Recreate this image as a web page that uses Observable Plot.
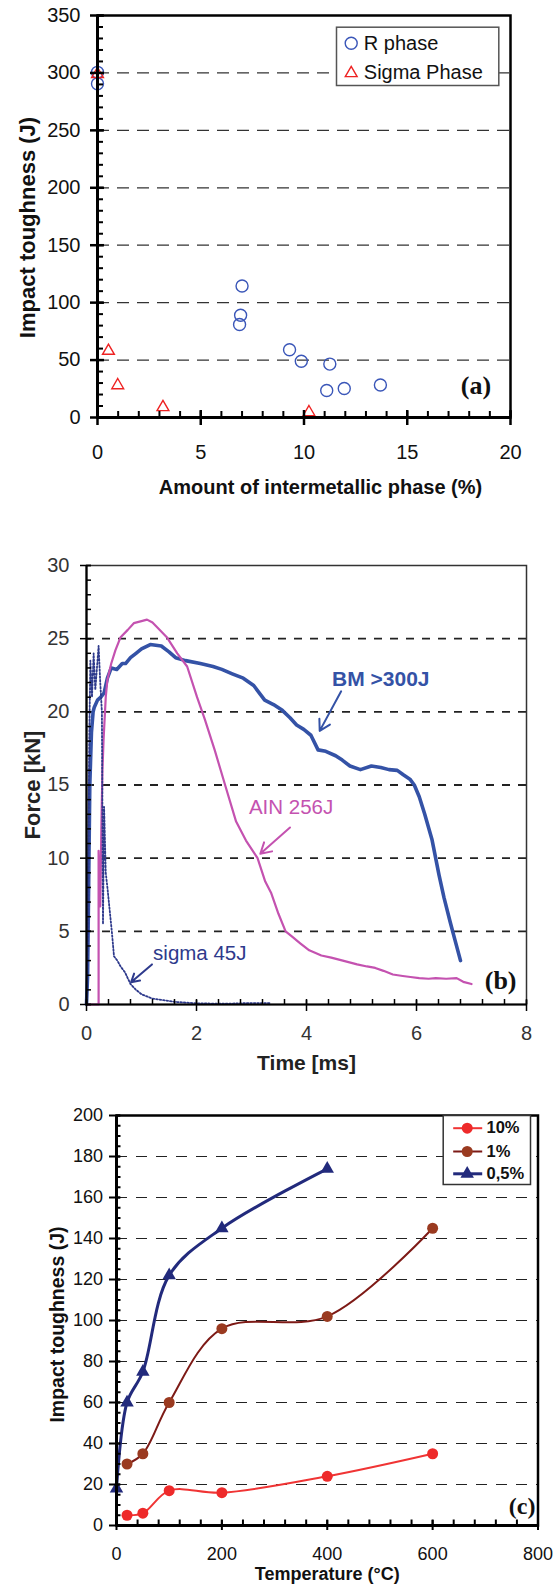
<!DOCTYPE html>
<html>
<head>
<meta charset="utf-8">
<script src="https://cdn.jsdelivr.net/npm/d3@7"></script>
<script src="https://cdn.jsdelivr.net/npm/@observablehq/plot@0.6"></script>
<style>
  html, body { margin: 0; padding: 0; background: #fff; }
  svg { display: block; }
</style>
</head>
<body>
<div id="chart"></div>
<script>
// ---------------- DATA ----------------
// Panel (a): impact toughness vs amount of intermetallic phase
const rPhaseX = [0, 0, 7.0, 6.93, 6.88, 9.3, 9.87, 11.25, 11.1, 11.95, 13.7];
const rPhaseY = [300.5, 290.5, 114.5, 89, 81, 59, 49, 46.5, 23.5, 25.2, 28.3];
const sigmaX = [0, 0.53, 0.98, 3.17, 10.24];
const sigmaY = [299, 58, 28, 9, 4.5];
const aLegend = ["R phase", "Sigma Phase"];
const aXTicks = [0, 5, 10, 15, 20];
const aYTicks = [0, 50, 100, 150, 200, 250, 300, 350];
const aGrid = [50, 100, 150, 200, 250, 300];

// Panel (b): force-time curves
const bmT = [0, 0.02, 0.03, 0.06, 0.09, 0.12, 0.14, 0.2, 0.26, 0.32,
  0.38, 0.45, 0.55, 0.65, 0.71, 0.8, 0.9, 1.0, 1.16, 1.36,
  1.5, 1.62, 1.8, 2.07, 2.3, 2.46, 2.65, 2.85, 3.04, 3.24,
  3.4, 3.56, 3.7, 3.82, 3.95, 4.08, 4.21, 4.35, 4.53, 4.65,
  4.79, 4.98, 5.18, 5.35, 5.5, 5.65, 5.76, 5.88, 5.96, 6.05,
  6.15, 6.28, 6.41, 6.5, 6.61, 6.7, 6.8];
const bmF = [0, 2, 5.2, 15, 18.6, 20, 20.3, 20.8, 21.0, 21.3,
  22.3, 23.0, 22.9, 23.3, 23.3, 23.7, 24.0, 24.3, 24.6, 24.5,
  24.1, 23.7, 23.5, 23.3, 23.1, 22.9, 22.6, 22.3, 21.8, 20.8,
  20.5, 20.1, 19.6, 19.1, 18.8, 18.4, 17.4, 17.3, 17.0, 16.7,
  16.3, 16.05, 16.3, 16.2, 16.05, 16.0, 15.7, 15.4, 15.0, 14.2,
  13.0, 11.3, 8.84, 7.3, 5.67, 4.4, 3.0];
const ainT = [0, 0.22, 0.22, 0.25, 0.27, 0.29, 0.31, 0.35, 0.38, 0.45,
  0.525, 0.62, 0.75, 0.86, 1.0, 1.1, 1.2, 1.28, 1.46, 1.65,
  1.83, 2.01, 2.15, 2.33, 2.52, 2.72, 2.9, 3.11, 3.25, 3.36,
  3.49, 3.62, 3.75, 3.88, 4.05, 4.27, 4.45, 4.66, 4.92, 5.1,
  5.25, 5.4, 5.57, 5.75, 5.89, 6.05, 6.22, 6.35, 6.54, 6.73,
  6.85, 7.0];
const ainF = [0, 0, 10.5, 6.7, 12, 16, 18.1, 21, 22.2, 23.3,
  24.2, 25.1, 25.6, 26.06, 26.2, 26.3, 26.1, 25.8, 25.1, 24.0,
  23.1, 21.0, 19.5, 17.4, 15, 12.5, 11.2, 10, 8.4, 7.6,
  6.2, 5, 4.6, 4.2, 3.7, 3.35, 3.2, 3.0, 2.74, 2.6,
  2.5, 2.3, 2.05, 1.95, 1.88, 1.8, 1.76, 1.8, 1.76, 1.8,
  1.55, 1.4];
const sigT = [0, 0.03, 0.05, 0.07, 0.1, 0.13, 0.16, 0.19, 0.22, 0.25,
  0.28, 0.3, 0.32, 0.35, 0.38, 0.42, 0.46, 0.5, 0.56, 0.62,
  0.7, 0.8, 0.9, 1.0, 1.2, 1.4, 1.6, 2.0, 2.5, 3.0,
  3.35];
const sigF = [0, 5, 18, 23.5, 21, 24, 21.5, 23, 24.5, 22,
  20, 5.5, 13.5, 9, 8, 6.5, 5, 3.3, 3, 2.6,
  2.2, 1.4, 1.0, 0.7, 0.4, 0.3, 0.18, 0.08, 0.05, 0.1,
  0.1];
const bNotes = ["BM >300J", "AIN 256J", "sigma 45J"];
const bNoteT = [5.35, 3.72, 2.06];
const bNoteF = [22.2, 13.5, 3.47];
const bArrowT1 = [4.63, 3.70, 1.19];
const bArrowF1 = [21.4, 12.1, 2.74];
const bArrowT2 = [4.24, 3.16, 0.81];
const bArrowF2 = [18.7, 10.3, 1.52];
const bXTicks = [0, 2, 4, 6, 8];
const bYTicks = [0, 5, 10, 15, 20, 25, 30];
const bGrid = [5, 10, 15, 20, 25];

// Panel (c): impact toughness vs temperature
const seriesNames = ["10%", "1%", "0,5%"];
const temp10 = [20, 50, 100, 200, 400, 600];
const tough10 = [5, 6, 17, 16, 24, 35];
const temp1 = [20, 50, 100, 200, 400, 600];
const tough1 = [30, 35, 60, 96, 102, 145];
const temp05 = [0, 20, 50, 100, 200, 400];
const tough05 = [18, 60, 75, 122, 145, 174];
const cXTicks = [0, 200, 400, 600, 800];
const cYTicks = [0, 20, 40, 60, 80, 100, 120, 140, 160, 180, 200];
const cGrid = [20, 40, 60, 80, 100, 120, 140, 160, 180];

// ---------------- HELPERS ----------------
const SANS = "'Liberation Sans', Arial, Helvetica, sans-serif";
const SERIF = "'Liberation Serif', 'Times New Roman', serif";
const W = 559;
const zip = (xs, ys, kx, ky) => xs.map((v, i) => ({[kx]: v, [ky]: ys[i]}));
function steps(a, b, s) { const r = []; for (let k = 0; a + k * s <= b + 1e-9; k++) r.push(+(a + k * s).toFixed(6)); return r; }
function ticksY(values, plotW, out, inn, sw) {
  return Plot.ruleY(values, {insetLeft: -out, insetRight: plotW - inn, stroke: "#000", strokeWidth: sw});
}
function ticksX(values, plotH, out, inn, sw) {
  return Plot.ruleX(values, {insetBottom: -out, insetTop: plotH - inn, stroke: "#000", strokeWidth: sw});
}
const style = {fontFamily: SANS, background: "white", overflow: "visible", color: "#000"};
const chart = document.getElementById("chart");

// ---------------- PANEL (a) ----------------
{
  const mL = 97, mR = 49, mT = 15, mB = 83, H = 500;
  const pW = W - mL - mR, pH = H - mT - mB;
  const rPhase = zip(rPhaseX, rPhaseY, "x", "y");
  const sigma = zip(sigmaX, sigmaY, "x", "y");
  const legX = 253.7, legRows = [27.7, 56.7];
  const blue = "#3a56b8", red = "#ee2222";
  const legendMarks = [
    Plot.dot([aLegend[0]], {frameAnchor: "top-left", dx: legX, dy: legRows[0], r: 6, stroke: blue, strokeWidth: 1.4, fill: "none"}),
    Plot.dot([aLegend[1]], {frameAnchor: "top-left", dx: legX, dy: legRows[1] + 1, symbol: "triangle", r: 4.4, stroke: red, strokeWidth: 1.4, fill: "none"})
  ];
  aLegend.forEach((name, i) => legendMarks.push(
    Plot.text([name], {text: d => d, frameAnchor: "top-left", dx: legX + 12.6, dy: legRows[i], textAnchor: "start", lineAnchor: "middle", fontSize: 20, fill: "#111"})
  ));
  const plot = Plot.plot({
    width: W, height: H, marginLeft: mL, marginRight: mR, marginTop: mT, marginBottom: mB,
    style,
    x: {domain: [0, 20]},
    y: {domain: [0, 350]},
    marks: [
      Plot.ruleY(aGrid, {stroke: "#333", strokeWidth: 1.3, strokeDasharray: "12,8"}),
      Plot.frame({stroke: "#000", strokeWidth: 2.5}),
      Plot.frame({fill: "white", stroke: "#555", strokeWidth: 1.5, insetLeft: 239, insetRight: 11.7, insetTop: 11.7, insetBottom: pH - 70}),
      Plot.dot(rPhase, {x: "x", y: "y", r: 6, stroke: blue, strokeWidth: 1.4, fill: "none"}),
      Plot.dot(sigma, {x: "x", y: "y", symbol: "triangle", r: 4.4, stroke: red, strokeWidth: 1.4, fill: "none"}),
      ...legendMarks,
      ticksY(steps(0, 350, 10), pW, 0, 6, 2),
      ticksY(aYTicks, pW, 7, 7, 2.5),
      ticksX(steps(0, 20, 1), pH, 0, 6, 2),
      ticksX(aXTicks, pH, 8, 7, 2.5),
      Plot.ruleX([0], {strokeWidth: 3, stroke: "#000"}),
      Plot.ruleY([0], {strokeWidth: 3, stroke: "#000"}),
      Plot.axisY({ticks: aYTicks, tickSize: 0, tickPadding: 17, fontSize: 20, label: null, color: "#111"}),
      Plot.axisX({ticks: aXTicks, tickSize: 0, tickPadding: 27.5, fontSize: 20, label: null, color: "#111"}),
      Plot.text(["Amount of intermetallic phase (%)"], {text: d => d, frameAnchor: "bottom-right", dx: -28.3, dy: 70, textAnchor: "end", lineAnchor: "middle", fontSize: 20, fontWeight: "bold", fill: "#111"}),
      Plot.text(["Impact toughness (J)"], {text: d => d, frameAnchor: "left", dx: 27 - mL, dy: 11, rotate: -90, textAnchor: "middle", lineAnchor: "middle", fontSize: 22, fontWeight: "bold", fill: "#111"}),
      Plot.text(["(a)"], {text: d => d, frameAnchor: "bottom-right", dx: -19.3, dy: -32.3, textAnchor: "end", lineAnchor: "middle", fontSize: 26, fontWeight: "bold", fontFamily: SERIF, fill: "#111"})
    ]
  });
  chart.appendChild(plot);
}

// ---------------- PANEL (b) ----------------
{
  const mL = 86, mR = 33, mT = 65, mB = 76, H = 580;
  const pW = W - mL - mR, pH = H - mT - mB;
  const bm = zip(bmT, bmF, "t", "f");
  const ain = zip(ainT, ainF, "t", "f");
  const sig = zip(sigT, sigF, "t", "f");
  const cols = ["#3452a6", "#c452b0", "#2e3a8c"];
  const weights = ["bold", "normal", "normal"];
  const noteMarks = [];
  bNotes.forEach((s, i) => {
    noteMarks.push(Plot.arrow([s], {x1: () => bArrowT1[i], y1: () => bArrowF1[i], x2: () => bArrowT2[i], y2: () => bArrowF2[i], stroke: cols[i], strokeWidth: 2, headLength: 9}));
    noteMarks.push(Plot.text([s], {x: () => bNoteT[i], y: () => bNoteF[i], text: d => d, fill: cols[i], fontWeight: weights[i], fontSize: i === 0 ? 21 : 20.5, textAnchor: "middle", lineAnchor: "middle"}));
  });
  const plot = Plot.plot({
    width: W, height: H, marginLeft: mL, marginRight: mR, marginTop: mT, marginBottom: mB,
    style,
    x: {domain: [0, 8]},
    y: {domain: [0, 30]},
    marks: [
      Plot.ruleY(bGrid, {stroke: "#222", strokeWidth: 1.8, strokeDasharray: "8,8"}),
      Plot.frame({stroke: "#333", strokeWidth: 1.5}),
      Plot.line(bm, {x: "t", y: "f", stroke: cols[0], strokeWidth: 3.6, strokeLinejoin: "round"}),
      Plot.line(ain, {x: "t", y: "f", stroke: cols[1], strokeWidth: 2.2, strokeLinejoin: "round"}),
      Plot.line(sig, {x: "t", y: "f", stroke: cols[2], strokeWidth: 1.8, strokeDasharray: "1.6,1.9"}),
      ...noteMarks,
      ticksY(steps(0, 30, 1), pW, 0, 5, 1.5),
      ticksY(bYTicks, pW, 6, 5, 1.5),
      ticksX(steps(0, 8, 0.4), pH, 0, 5, 1.5),
      ticksX(bXTicks, pH, 7, 4, 1.5),
      Plot.ruleX([0], {strokeWidth: 2.2, stroke: "#000"}),
      Plot.ruleY([0], {strokeWidth: 2.2, stroke: "#000"}),
      Plot.axisY({ticks: bYTicks, tickSize: 0, tickPadding: 17, fontSize: 20, label: null, color: "#333"}),
      Plot.axisX({ticks: bXTicks, tickSize: 0, tickPadding: 21, fontSize: 20, label: null, color: "#333"}),
      Plot.text(["Time [ms]"], {text: d => d, frameAnchor: "bottom", dy: 59, textAnchor: "middle", lineAnchor: "middle", fontSize: 21, fontWeight: "bold", fill: "#222"}),
      Plot.text(["Force [kN]"], {text: d => d, frameAnchor: "left", dx: 32 - mL, dy: 0, rotate: -90, textAnchor: "middle", lineAnchor: "middle", fontSize: 22, fontWeight: "bold", fill: "#222"}),
      Plot.text(["(b)"], {text: d => d, frameAnchor: "bottom-right", dx: -10, dy: -24, textAnchor: "end", lineAnchor: "middle", fontSize: 26, fontWeight: "bold", fontFamily: SERIF, fill: "#111"})
    ]
  });
  chart.appendChild(plot);
}

// ---------------- PANEL (c) ----------------
{
  const mL = 116, mR = 21.5, mT = 35, mB = 62, H = 507;
  const pW = W - mL - mR, pH = H - mT - mB;
  const s10 = zip(temp10, tough10, "x", "y");
  const s1 = zip(temp1, tough1, "x", "y");
  const s05 = zip(temp05, tough05, "x", "y");
  const lineCols = ["#f03434", "#7d1a16", "#222a7c"];
  const dotCols = ["#ee2a2a", "#9a3a20", "#222a7c"];
  const lineW = [2, 2, 3];
  const legRowY = [12.7, 36, 58.3];
  const legL = 336.7, legR = 55.8, legMark = 350.7, legText = 370;
  const legendMarks = [];
  seriesNames.forEach((name, i) => {
    const th = lineW[i];
    legendMarks.push(Plot.frame({fill: lineCols[i], stroke: "none", insetLeft: legL, insetRight: legR, insetTop: legRowY[i] - th / 2, insetBottom: pH - legRowY[i] - th / 2}));
    legendMarks.push(Plot.dot([name], {frameAnchor: "top-left", dx: legMark, dy: legRowY[i], r: i === 2 ? 5 : 5.5, symbol: i === 2 ? "triangle" : "circle", fill: dotCols[i]}));
    legendMarks.push(Plot.text([name], {text: d => d, frameAnchor: "top-left", dx: legText, dy: legRowY[i], textAnchor: "start", lineAnchor: "middle", fontSize: 16.5, fontWeight: "bold", fill: "#111"}));
  });
  const plot = Plot.plot({
    width: W, height: H, marginLeft: mL, marginRight: mR, marginTop: mT, marginBottom: mB,
    style,
    x: {domain: [0, 800]},
    y: {domain: [0, 200]},
    marks: [
      Plot.ruleY(cGrid, {stroke: "#222", strokeWidth: 1.2, strokeDasharray: "11,9"}),
      Plot.frame({stroke: "#000", strokeWidth: 2.5}),
      Plot.frame({fill: "white", stroke: "#333", strokeWidth: 1.5, insetLeft: 326.7, insetRight: 7.5, insetTop: 0, insetBottom: pH - 69}),
      ...legendMarks,
      Plot.line(s10, {x: "x", y: "y", stroke: lineCols[0], strokeWidth: lineW[0], curve: "catmull-rom"}),
      Plot.line(s1, {x: "x", y: "y", stroke: lineCols[1], strokeWidth: lineW[1], curve: "catmull-rom"}),
      Plot.line(s05, {x: "x", y: "y", stroke: lineCols[2], strokeWidth: lineW[2], curve: "catmull-rom"}),
      Plot.dot(s10, {x: "x", y: "y", r: 5.5, fill: dotCols[0]}),
      Plot.dot(s1, {x: "x", y: "y", r: 5.5, fill: dotCols[1]}),
      Plot.dot(s05, {x: "x", y: "y", r: 5, symbol: "triangle", fill: dotCols[2]}),
      ticksY(steps(0, 200, 5), pW, 0, 4.5, 2),
      ticksY(cYTicks, pW, 7, 4, 2),
      ticksX(steps(0, 800, 40), pH, 0, 5.5, 2),
      ticksX(cXTicks, pH, 5, 5, 2),
      Plot.ruleX([0], {strokeWidth: 3, stroke: "#000"}),
      Plot.ruleY([0], {strokeWidth: 3, stroke: "#000"}),
      Plot.axisY({ticks: cYTicks, tickSize: 0, tickPadding: 13.5, fontSize: 18, label: null, color: "#111"}),
      Plot.axisX({ticks: cXTicks, tickSize: 0, tickPadding: 21.5, fontSize: 18, label: null, color: "#111"}),
      Plot.text(["Temperature (°C)"], {text: d => d, frameAnchor: "bottom", dy: 49, textAnchor: "middle", lineAnchor: "middle", fontSize: 18, fontWeight: "bold", fill: "#111"}),
      Plot.text(["Impact toughness (J)"], {text: d => d, frameAnchor: "left", dx: 57 - mL, dy: 4, rotate: -90, textAnchor: "middle", lineAnchor: "middle", fontSize: 19.5, fontWeight: "bold", fill: "#111"}),
      Plot.text(["(c)"], {text: d => d, frameAnchor: "bottom-right", dx: -2.5, dy: -19, textAnchor: "end", lineAnchor: "middle", fontSize: 24, fontWeight: "bold", fontFamily: SERIF, fill: "#111"})
    ]
  });
  chart.appendChild(plot);
}
</script>
</body>
</html>
